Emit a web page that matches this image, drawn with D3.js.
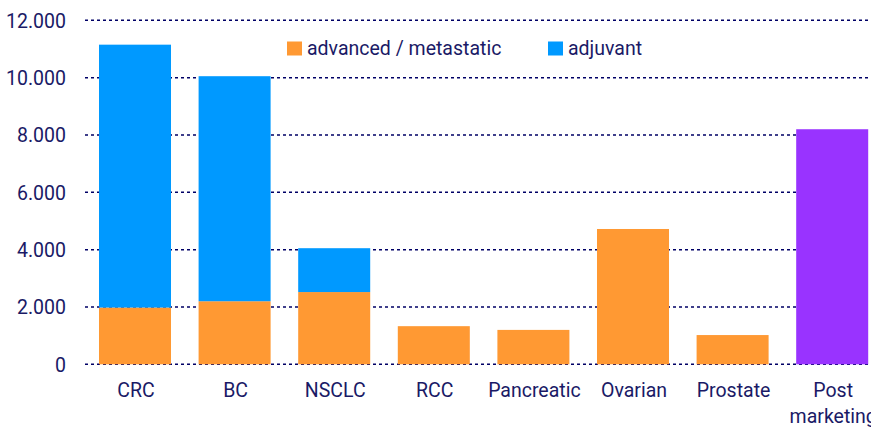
<!DOCTYPE html>
<html><head><meta charset="utf-8">
<script src="https://cdn.jsdelivr.net/npm/d3@7"></script>
<style>body{margin:0;background:#fff;} svg{display:block;} text{font-family:Roboto, "Noto Sans", sans-serif;}</style>
</head><body>
<svg id="c" width="871" height="428"></svg>
<script>
const categories = ["CRC","BC","NSCLC","RCC","Pancreatic","Ovarian","Prostate","Post marketing"];
const advanced = [1980, 2200, 2520, 1330, 1200, 4720, 1020, 0];
const adjuvant = [9170, 7850, 1530, 0, 0, 0, 0, 0];
const postMarketing = [0, 0, 0, 0, 0, 0, 0, 8200];
const yTicks = [0, 2000, 4000, 6000, 8000, 10000, 12000];
const seriesNames = ["advanced / metastatic", "adjuvant"];
const colors = {advanced:"#FF9933", adjuvant:"#0099FF", post:"#9933FF"};
const textColor = "#1a1a66";

const svg = d3.select("#c");
const x = d3.scaleBand().domain(categories).range([85.2, 85.2 + 8*99.6]).paddingInner(0.277).paddingOuter(0.1385);
const y = d3.scaleLinear().domain([0, 12000]).range([364.3, 20.3]);

const fmt = v => d3.format(",")(v).replace(/,/g, ".");

// gridlines
svg.append("g").selectAll("line").data(yTicks).join("line")
  .attr("x1", 85).attr("x2", 871)
  .attr("y1", d => y(d)).attr("y2", d => y(d))
  .attr("stroke", "#000066").attr("stroke-width", 1.5).attr("stroke-dasharray", "3,3");

// y axis
const yAxis = d3.axisLeft(y).tickValues(yTicks).tickFormat(fmt).tickSize(0).tickPadding(0);
const ga = svg.append("g").attr("transform", "translate(66,0)").call(yAxis);
ga.select(".domain").remove();
ga.selectAll("text").attr("fill", textColor).style("font-size", "19.5px").attr("dy", "0.35em");

// stacked bars
const stackData = categories.map((c, i) => ({cat: c, advanced: advanced[i], adjuvant: adjuvant[i], post: postMarketing[i]}));
const stack = d3.stack().keys(["advanced", "adjuvant", "post"])(stackData);
svg.append("g").selectAll("g").data(stack).join("g")
  .attr("fill", d => colors[d.key])
  .selectAll("rect").data(d => d.filter(s => s[1] > s[0])).join("rect")
  .attr("x", d => x(d.data.cat)).attr("width", x.bandwidth())
  .attr("y", d => y(d[1])).attr("height", d => y(d[0]) - y(d[1]));

// x labels
const gx = svg.append("g");
categories.forEach(c => {
  const t = gx.append("text").attr("text-anchor", "middle").attr("fill", textColor)
    .style("font-size", "19.5px").attr("x", x(c) + x.bandwidth()/2 + 1).attr("y", 397);
  const parts = c === "Post marketing" ? ["Post", "marketing"] : [c];
  parts.forEach((p, j) => t.append("tspan").attr("x", x(c) + x.bandwidth()/2 + 1).attr("dy", j ? 26 : 0).text(p));
});

// legend
const legend = [{name: seriesNames[0], color: colors.advanced, x: 287}, {name: seriesNames[1], color: colors.adjuvant, x: 548}];
const lg = svg.append("g").selectAll("g").data(legend).join("g").attr("transform", d => `translate(${d.x},0)`);
lg.append("rect").attr("x", 0).attr("y", 41.5).attr("width", 15).attr("height", 14).attr("fill", d => d.color);
lg.append("text").attr("x", 20).attr("y", 55).attr("fill", textColor).style("font-size", "19.5px").text(d => d.name);
</script>
</body></html>
